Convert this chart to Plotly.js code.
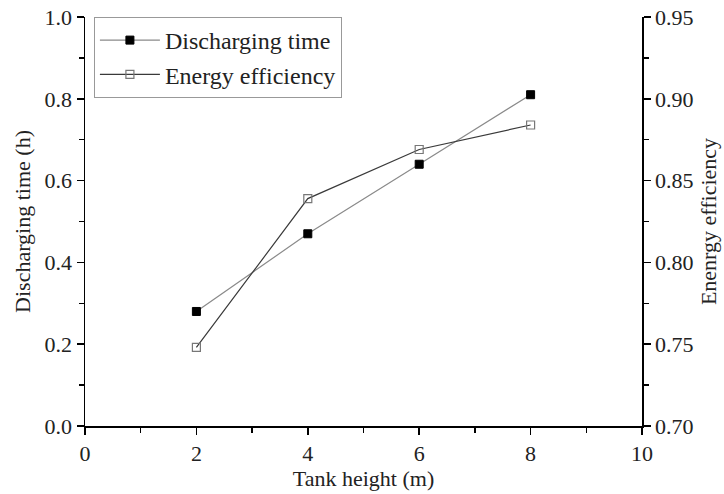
<!DOCTYPE html>
<html>
<head>
<meta charset="utf-8">
<script src="https://cdn.plot.ly/plotly-3.0.1.min.js"></script>
<style>html,body{margin:0;padding:0;background:#fff;}#chart{width:724px;height:494px;}</style>
</head>
<body>
<div id="chart"></div>
<script>
const tankHeight = [2, 4, 6, 8];
const dischargingTime = [0.28, 0.47, 0.64, 0.81];
const energyEfficiency = [0.748, 0.839, 0.869, 0.884];
const seriesNames = ['Discharging time', 'Energy efficiency'];

const FONT = 'Liberation Serif, Times New Roman, serif';

const traces = [
  {
    x: tankHeight, y: dischargingTime, name: seriesNames[0],
    type: 'scatter', mode: 'lines+markers',
    line: {color: '#8a8a8a', width: 1.2},
    marker: {symbol: 'square', size: 8, color: '#000', line: {color: '#000', width: 1}},
    yaxis: 'y'
  },
  {
    x: tankHeight, y: energyEfficiency, name: seriesNames[1],
    type: 'scatter', mode: 'lines+markers',
    line: {color: '#3a3a3a', width: 1.2},
    marker: {symbol: 'square-open', size: 8, color: '#777', line: {color: '#777', width: 1.2}},
    yaxis: 'y2'
  }
];

const axisCommon = {
  showgrid: false, zeroline: false, showline: true, linecolor: '#000', linewidth: 1.5,
  ticks: 'outside', ticklen: 7, tickwidth: 1.5, tickcolor: '#000',
  tickfont: {family: FONT, size: 22, color: '#222'}
};

const layout = {
  width: 724, height: 494,
  margin: {l: 85, r: 82, t: 17, b: 68},
  paper_bgcolor: '#fff', plot_bgcolor: '#fff',
  font: {family: FONT, color: '#000'},
  showlegend: true,
  legend: {
    x: 0.016, y: 1.0, xanchor: 'left', yanchor: 'top',
    bordercolor: '#999', borderwidth: 1, bgcolor: '#fff',
    font: {family: FONT, size: 24, color: '#222'},
    itemwidth: 60,
    tracegroupgap: 0
  },
  xaxis: Object.assign({}, axisCommon, {
    range: [0, 10], tickmode: 'linear', tick0: 0, dtick: 2,
    minor: {dtick: 1, ticks: 'outside', ticklen: 5, tickwidth: 1.3, tickcolor: '#000'},
    title: {text: 'Tank height (m)', font: {family: FONT, size: 22, color: '#222'}, standoff: 4}
  }),
  yaxis: Object.assign({}, axisCommon, {
    range: [0, 1], tickmode: 'linear', tick0: 0, dtick: 0.2, tickformat: '.1f',
    minor: {dtick: 0.1, ticks: 'outside', ticklen: 5, tickwidth: 1.3, tickcolor: '#000'},
    title: {text: 'Discharging time (h)', font: {family: FONT, size: 22, color: '#222'}, standoff: 8}
  }),
  yaxis2: Object.assign({}, axisCommon, {
    overlaying: 'y', side: 'right',
    range: [0.70, 0.95], tickmode: 'linear', tick0: 0.70, dtick: 0.05, tickformat: '.2f',
    minor: {dtick: 0.025, ticks: 'outside', ticklen: 5, tickwidth: 1.3, tickcolor: '#000'},
    title: {text: 'Enenrgy efficiency', font: {family: FONT, size: 22, color: '#222'}, standoff: 8}
  })
};

Plotly.newPlot('chart', traces, layout, {displayModeBar: false, staticPlot: true});
</script>
</body>
</html>
